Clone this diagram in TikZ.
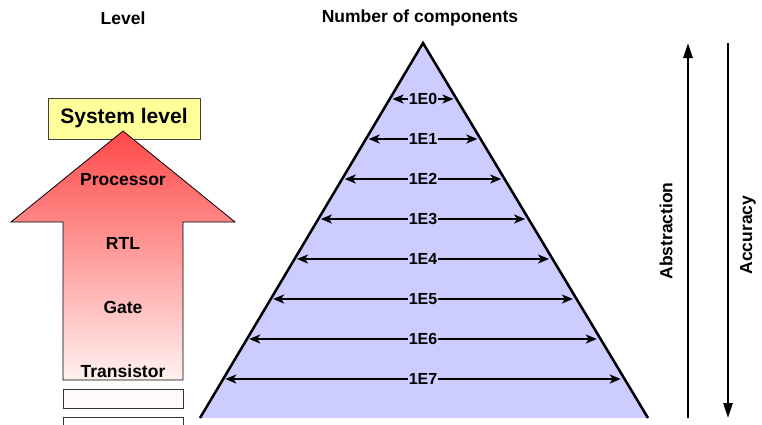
\documentclass[tikz,border=0pt]{standalone}
\usepackage{fontspec}
\setmainfont{Liberation Sans}
\usetikzlibrary{arrows.meta}
\definecolor{lavender}{RGB}{204,204,255}
\definecolor{sysyellow}{RGB}{255,255,153}
\definecolor{arrowred}{RGB}{255,72,72}
\definecolor{palepink}{RGB}{255,242,240}
\begin{document}
\begin{tikzpicture}[x=1pt, y=-1pt,
  lbl/.style={font=\bfseries\fontsize{17.5}{20}\selectfont, inner sep=0pt},
  elbl/.style={font=\bfseries\fontsize{16}{18}\selectfont, fill=lavender, inner sep=1pt},
  span/.style={line width=2pt, {Stealth[length=11pt,width=9pt,inset=3pt]}-{Stealth[length=11pt,width=9pt,inset=3pt]}},
  axis/.style={line width=2.6pt, -{Triangle[length=15pt,width=9pt]}}]
  \useasboundingbox (0,0) rectangle (762,424);
  % headings
  \node[lbl] (level) at (123,18) {Level};
  \node[lbl] (ncomp) at (420,18) {Number of components};
  % level arrow
  \node[draw=black!75, fill=sysyellow, line width=1pt, minimum width=152pt, minimum height=41pt,
    font=\bfseries\fontsize{21}{24}\selectfont] (sys) at (124,118.5) {System level};
  \draw[top color=arrowred, bottom color=palepink, line width=0.8pt]
    (123,131) -- (235,222) -- (183,222) -- (183,380) -- (63,380) -- (63,222) -- (11,222) -- cycle;
  \draw[fill=palepink!40, draw=black!80, line width=0.8pt] (63,389) rectangle (183,408);
  \draw[fill=white, draw=black!80, line width=0.8pt] (63,417) rectangle (183,432);
  \node[lbl] (proc) at (123,180) {Processor};
  \node[lbl] (rtl) at (123,243) {RTL};
  \node[lbl] (gate) at (123,307) {Gate};
  \node[lbl] (trans) at (123,371) {Transistor};
  % pyramid
  \coordinate (apex) at (423,43);
  \coordinate (bl) at (200,418);
  \coordinate (br) at (648,418);
  \fill[lavender] (apex) -- (br) -- (bl) -- cycle;
  \draw[line width=2.5pt] (bl) -- (apex) -- (br);
  \foreach \i in {0,...,7}{
    \pgfmathsetmacro{\yy}{99+40*\i}
    \pgfmathsetmacro{\hw}{0.59733*(\yy-43)-3}
    \coordinate (l\i) at (423-\hw,\yy);
    \coordinate (r\i) at (423+\hw,\yy);
    \draw[span] (l\i) -- (r\i) node[midway, elbl] (e\i) {1E\i};
  }
  % abstraction / accuracy
  \coordinate (abot) at (688,418);
  \coordinate (atop) at (688,43);
  \draw[axis] (abot) -- (atop);
  \node[lbl, rotate=90] (abstr) at (666,231) {Abstraction};
  \coordinate (ctop) at (728,43);
  \coordinate (cbot) at (728,418);
  \draw[axis] (ctop) -- (cbot);
  \node[lbl, rotate=90] (accur) at (748,235) {Accuracy};
\end{tikzpicture}
\end{document}
